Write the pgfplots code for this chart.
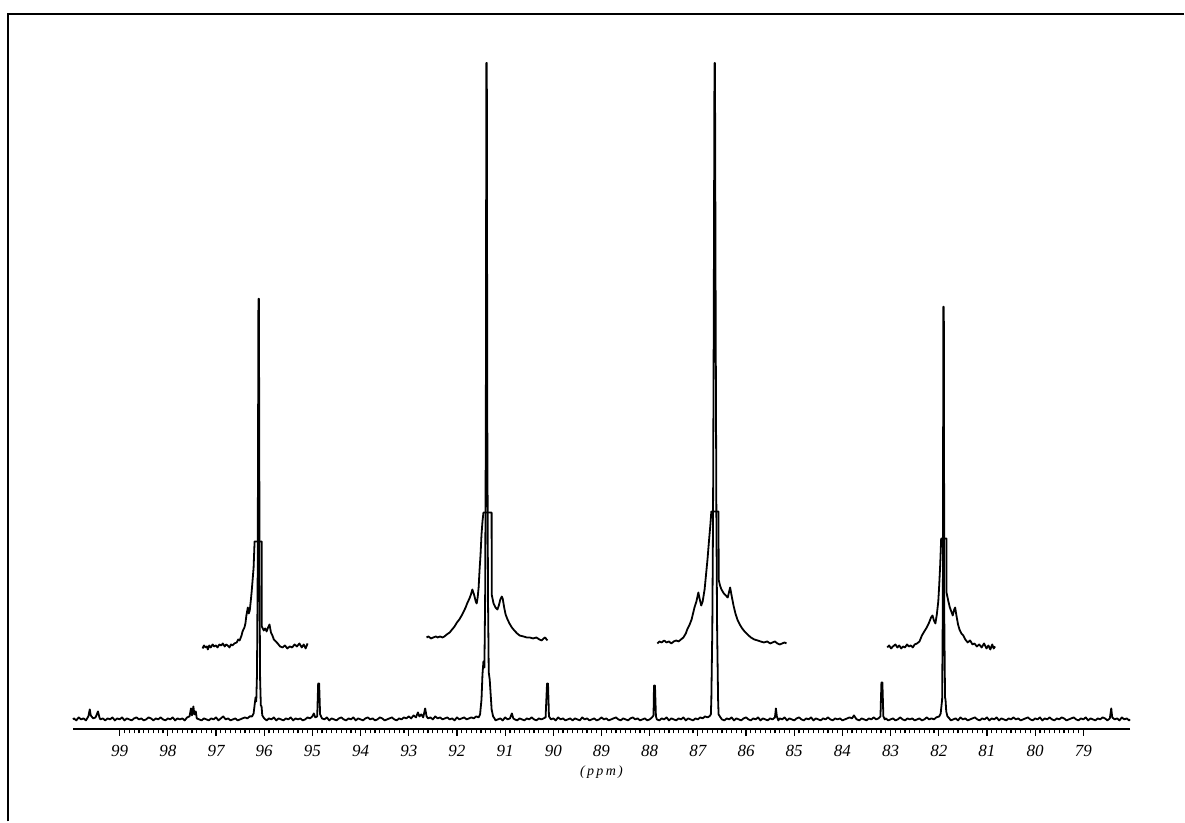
\documentclass[border=0pt]{standalone}
\usepackage{fontspec}
\setmainfont{Liberation Serif}
\usepackage{pgfplots}
\pgfplotsset{compat=1.18}
\begin{document}
\begin{tikzpicture}
\begin{axis}[
  scale only axis,
  width=529pt, height=333.5pt,
  x dir=reverse,
  xmin=78.03, xmax=99.97,
  ymin=-10, ymax=657,
  axis x line=bottom,
  axis y line=none,
  x axis line style={-, line width=1pt},
  xtick={79,80,...,99},
  minor x tick num=9,
  tick align=outside,
  major tick length=3.2pt,
  minor tick length=2pt,
  every tick/.style={black, line width=0.6pt},
  /pgf/number format/assume math mode=true,
  xticklabel style={font=\fontsize{8.5}{9}\selectfont\itshape, yshift=-1.2pt},
  xlabel={\itshape(\,p\,p\,m\,)},
  xlabel style={font=\fontsize{7}{8}\selectfont, yshift=2.5pt},
  clip=false,
]
% main spectrum
\addplot[black, line width=0.9pt, line join=round] coordinates {
(99.97,0) (99.95,1) (99.90,-1) (99.85,2) (99.80,0) (99.75,1) (99.70,-1) (99.65,3) (99.62,10) (99.60,4) (99.55,1) (99.50,2) (99.45,8) (99.42,2) (99.40,0)
(99.35,1) (99.30,-1) (99.25,1) (99.20,0) (99.15,2) (99.10,-1) (99.05,1) (99.00,0) (98.95,2) (98.90,-1) (98.85,1) (98.80,0) (98.75,-1) (98.70,1)
(98.65,2) (98.60,0) (98.55,1) (98.50,-1) (98.45,0) (98.40,2) (98.35,1) (98.30,-1) (98.25,1) (98.20,0) (98.15,2) (98.10,0) (98.05,-1) (98.00,1)
(97.95,0) (97.90,2) (97.85,-1) (97.80,1) (97.75,0) (97.70,1) (97.65,-1) (97.60,2) (97.55,3) (97.52,11) (97.50,4) (97.47,13) (97.45,5) (97.42,8)
(97.40,1) (97.35,0) (97.30,-1) (97.25,1) (97.20,0) (97.15,-1) (97.10,1) (97.05,0) (97.00,2) (96.95,-1) (96.90,1) (96.85,3) (96.80,0) (96.75,1)
(96.70,-1) (96.65,0) (96.60,1) (96.55,-1) (96.50,0) (96.45,1) (96.40,2) (96.35,1) (96.30,3) (96.25,3) (96.22,6) (96.20,14) (96.18,22) (96.165,18)
(96.15,45) (96.135,150) (96.12,421) (96.11,421) (96.095,120) (96.085,40) (96.07,14) (96.055,13) (96.04,4) (96.00,1)
(95.95,-1) (95.90,1) (95.85,0) (95.80,2) (95.75,-1) (95.70,1) (95.65,0) (95.60,-1) (95.55,1) (95.50,0) (95.45,2) (95.40,-1) (95.35,1) (95.30,0)
(95.25,1) (95.20,-1) (95.15,0) (95.10,2) (95.05,1) (95.00,3) (94.97,6) (94.94,2) (94.90,3) (94.88,36) (94.86,36) (94.84,5) (94.80,1) (94.75,0)
(94.70,2) (94.65,-1) (94.60,1) (94.55,0) (94.50,-1) (94.45,1) (94.40,2) (94.35,0) (94.30,-1) (94.25,1) (94.20,0) (94.15,2) (94.10,-1) (94.05,1)
(94.00,0) (93.95,-1) (93.90,1) (93.85,2) (93.80,0) (93.75,1) (93.70,-1) (93.65,0) (93.60,2) (93.55,1) (93.50,-1) (93.45,0) (93.40,1) (93.35,2)
(93.30,0) (93.25,-1) (93.20,1) (93.15,0) (93.10,2) (93.05,1) (93.00,3) (92.95,1) (92.90,4) (92.85,2) (92.81,7) (92.78,3) (92.74,5) (92.70,2)
(92.66,11) (92.63,3) (92.60,1) (92.55,2) (92.50,0) (92.45,3) (92.40,1) (92.35,2) (92.30,0) (92.25,1) (92.20,2) (92.15,0) (92.10,1) (92.05,-1)
(92.00,2) (91.95,0) (91.90,1) (91.85,2) (91.80,0) (91.75,1) (91.70,2) (91.65,1) (91.60,3) (91.55,2) (91.52,5) (91.49,20) (91.47,45) (91.45,58)
(91.43,52) (91.415,120) (91.40,300) (91.39,657) (91.38,657) (91.37,300) (91.355,120) (91.34,47) (91.32,40) (91.30,25) (91.28,10) (91.25,3)
(91.22,1) (91.20,-1) (91.15,0) (91.10,1) (91.05,-1) (91.00,2) (90.95,0) (90.90,1) (90.86,6) (90.83,1) (90.80,0) (90.75,-1) (90.70,1) (90.65,0)
(90.60,-1) (90.55,1) (90.50,0) (90.45,2) (90.40,0) (90.35,-1) (90.30,1) (90.25,0) (90.20,1) (90.16,2) (90.13,36) (90.11,36) (90.09,3) (90.05,0)
(90.00,1) (89.95,-1) (89.90,2) (89.85,0) (89.80,1) (89.75,-1) (89.70,0) (89.65,1) (89.60,-1) (89.55,1) (89.50,0) (89.45,-1) (89.40,2) (89.35,0)
(89.30,1) (89.25,-1) (89.20,0) (89.15,1) (89.10,-1) (89.05,0) (89.00,2) (88.95,0) (88.90,1) (88.85,-1) (88.80,0) (88.75,1) (88.70,2) (88.65,0)
(88.60,-1) (88.55,1) (88.50,0) (88.45,-1) (88.40,1) (88.35,2) (88.30,0) (88.25,1) (88.20,-1) (88.15,0) (88.10,1) (88.05,-1) (88.00,0) (87.95,2)
(87.92,4) (87.91,34) (87.89,34) (87.87,3) (87.85,0) (87.80,-1) (87.75,1) (87.70,0) (87.65,2) (87.60,-1) (87.55,1) (87.50,0) (87.45,-1) (87.40,1)
(87.35,0) (87.30,2) (87.25,-1) (87.20,1) (87.15,0) (87.10,-1) (87.05,1) (87.00,0) (86.95,2) (86.90,1) (86.85,3) (86.80,2) (86.76,3) (86.73,5)
(86.72,20) (86.70,90) (86.685,200) (86.67,400) (86.655,657) (86.645,657) (86.63,400) (86.615,200) (86.60,90) (86.58,20) (86.57,5) (86.53,2)
(86.50,0) (86.45,-1) (86.40,1) (86.35,0) (86.30,2) (86.25,-1) (86.20,1) (86.15,0) (86.10,-1) (86.05,1) (86.00,2) (85.95,0) (85.90,-1) (85.85,1)
(85.80,0) (85.75,2) (85.70,-1) (85.65,1) (85.60,0) (85.55,-1) (85.50,1) (85.45,0) (85.40,2) (85.38,11) (85.36,3) (85.33,-1) (85.30,1) (85.25,0)
(85.20,2) (85.15,-1) (85.10,1) (85.05,0) (85.00,-1) (84.95,1) (84.90,2) (84.85,0) (84.80,-1) (84.75,1) (84.70,0) (84.65,2) (84.60,-1) (84.55,1)
(84.50,0) (84.45,-1) (84.40,1) (84.35,0) (84.30,2) (84.25,0) (84.20,-1) (84.15,1) (84.10,0) (84.05,1) (84.00,-1) (83.95,0) (83.90,1) (83.85,2)
(83.80,1) (83.76,4) (83.72,1) (83.70,0) (83.65,-1) (83.60,1) (83.55,0) (83.50,-1) (83.45,1) (83.40,0) (83.35,2) (83.30,0) (83.25,1) (83.21,3)
(83.19,37) (83.17,37) (83.15,3) (83.12,0) (83.10,1) (83.05,-1) (83.00,0) (82.95,1) (82.90,-1) (82.85,0) (82.80,2) (82.75,0) (82.70,-1) (82.65,1)
(82.60,0) (82.55,1) (82.50,-1) (82.45,0) (82.40,1) (82.35,-1) (82.30,0) (82.25,2) (82.20,0) (82.15,1) (82.10,0) (82.05,2) (81.99,3) (81.96,6)
(81.93,20) (81.915,120) (81.905,413) (81.895,413) (81.885,100) (81.87,22) (81.86,20) (81.845,8) (81.82,3) (81.78,1) (81.75,-1) (81.70,0)
(81.65,1) (81.60,-1) (81.55,2) (81.50,0) (81.45,1) (81.40,-1) (81.35,0) (81.30,1) (81.25,2) (81.20,0) (81.15,-1) (81.10,1) (81.05,0) (81.00,2)
(80.95,-1) (80.90,1) (80.85,0) (80.80,2) (80.75,-1) (80.70,1) (80.65,0) (80.60,-1) (80.55,1) (80.50,0) (80.45,2) (80.40,0) (80.35,1) (80.30,-1)
(80.25,0) (80.20,1) (80.15,2) (80.10,0) (80.05,-1) (80.00,1) (79.95,0) (79.90,2) (79.85,-1) (79.80,1) (79.75,0) (79.70,2) (79.65,0) (79.60,-1)
(79.55,1) (79.50,0) (79.45,2) (79.40,1) (79.35,-1) (79.30,0) (79.25,1) (79.20,2) (79.15,0) (79.10,-1) (79.05,1) (79.00,0) (78.95,2) (78.90,-1)
(78.85,1) (78.80,0) (78.75,-1) (78.70,1) (78.65,0) (78.60,2) (78.55,1) (78.50,-1) (78.45,1) (78.42,11) (78.40,2) (78.35,0) (78.30,1) (78.25,-1)
(78.20,2) (78.15,0) (78.10,1) (78.05,-1) (78.03,0)
};
% expansion 1
\addplot[black, line width=0.9pt, line join=round] coordinates {
(97.28,71) (97.25,74) (97.22,72) (97.19,73) (97.17,70) (97.14,74) (97.11,72) (97.07,75) (97.04,73) (97.00,74) (96.97,72) (96.93,75) (96.89,74)
(96.86,76) (96.82,73) (96.79,75) (96.76,74) (96.72,72) (96.69,75) (96.66,74) (96.62,76) (96.57,77) (96.54,80) (96.51,79) (96.47,84) (96.45,88)
(96.41,92) (96.39,96) (96.37,104) (96.34,112) (96.32,106) (96.30,109) (96.28,118) (96.26,128) (96.24,140) (96.22,152) (96.20,178) (96.05,178)
(96.049,93) (96.01,89) (95.98,91) (95.95,88) (95.92,92) (95.89,95) (95.86,87) (95.83,84) (95.80,80) (95.76,78) (95.72,76) (95.67,73) (95.62,72)
(95.57,74) (95.52,71) (95.47,73) (95.42,72) (95.37,75) (95.32,73) (95.27,76) (95.22,72) (95.18,75) (95.14,71) (95.10,76)
};
% expansion 2
\addplot[black, line width=0.9pt, line join=round] coordinates {
(92.63,82) (92.59,83) (92.54,81) (92.49,82) (92.44,83) (92.40,82) (92.35,83) (92.30,82) (92.26,83) (92.21,85) (92.15,87) (92.10,90) (92.05,93)
(92.00,97) (91.95,100) (91.89,105) (91.82,112) (91.78,117) (91.74,121) (91.71,125) (91.68,130) (91.64,124) (91.61,118) (91.59,116) (91.57,122)
(91.55,132) (91.53,150) (91.51,165) (91.49,185) (91.47,198) (91.45,207) (91.28,207) (91.279,125) (91.24,116) (91.20,112) (91.16,110) (91.13,114)
(91.10,120) (91.07,123) (91.05,121) (91.02,112) (90.99,105) (90.95,100) (90.91,96) (90.86,92) (90.81,89) (90.75,86) (90.70,84) (90.62,83)
(90.55,82) (90.49,82) (90.42,81) (90.35,82) (90.29,80) (90.24,79) (90.20,81) (90.17,82) (90.14,80) (90.12,79)
};
% expansion 3
\addplot[black, line width=0.9pt, line join=round] coordinates {
(87.84,76) (87.80,78) (87.75,77) (87.70,79) (87.65,77) (87.60,78) (87.55,76) (87.50,78) (87.45,79) (87.40,78) (87.35,80) (87.30,82) (87.25,86)
(87.22,90) (87.17,95) (87.13,100) (87.10,106) (87.07,112) (87.03,118) (86.99,127) (86.96,120) (86.93,114) (86.90,118) (86.86,130) (86.83,145)
(86.80,160) (86.77,178) (86.74,195) (86.72,208) (86.57,208) (86.569,140) (86.54,134) (86.51,130) (86.46,126) (86.42,124) (86.38,122) (86.35,128)
(86.33,132) (86.30,124) (86.26,114) (86.22,106) (86.18,100) (86.13,95) (86.08,91) (86.03,88) (85.97,85) (85.90,82) (85.83,80) (85.76,79)
(85.70,78) (85.63,77) (85.56,78) (85.50,76) (85.45,77) (85.40,78) (85.35,76) (85.30,75) (85.25,76) (85.20,77) (85.16,76)
};
% expansion 4
\addplot[black, line width=0.9pt, line join=round] coordinates {
(83.07,72) (83.03,74) (82.99,71) (82.95,73) (82.90,75) (82.86,72) (82.82,74) (82.78,71) (82.74,73) (82.70,72) (82.66,75) (82.62,73) (82.58,74)
(82.54,72) (82.50,75) (82.45,76) (82.40,78) (82.35,84) (82.30,88) (82.25,92) (82.20,97) (82.16,102) (82.13,104) (82.10,99) (82.07,96) (82.04,105)
(82.01,118) (81.99,135) (81.97,155) (81.95,181) (81.84,181) (81.839,127) (81.80,118) (81.77,112) (81.74,108) (81.71,104) (81.68,110) (81.66,112)
(81.63,103) (81.60,95) (81.57,90) (81.53,86) (81.49,84) (81.45,80) (81.40,77) (81.35,79) (81.30,75) (81.26,76) (81.21,73) (81.16,75) (81.11,72)
(81.06,76) (81.01,71) (80.97,74) (80.93,70) (80.89,75) (80.86,71) (80.83,73)
};
\end{axis}
\path ([shift={(-36.5pt,-46pt)}]current axis.south west) rectangle ([shift={(556pt,365pt)}]current axis.south west);
\draw[line width=1pt] ([shift={(-32.5pt,-46pt)}]current axis.south west) -- ([shift={(-32.5pt,358pt)}]current axis.south west) -- ([shift={(556pt,358pt)}]current axis.south west);
\end{tikzpicture}
\end{document}
